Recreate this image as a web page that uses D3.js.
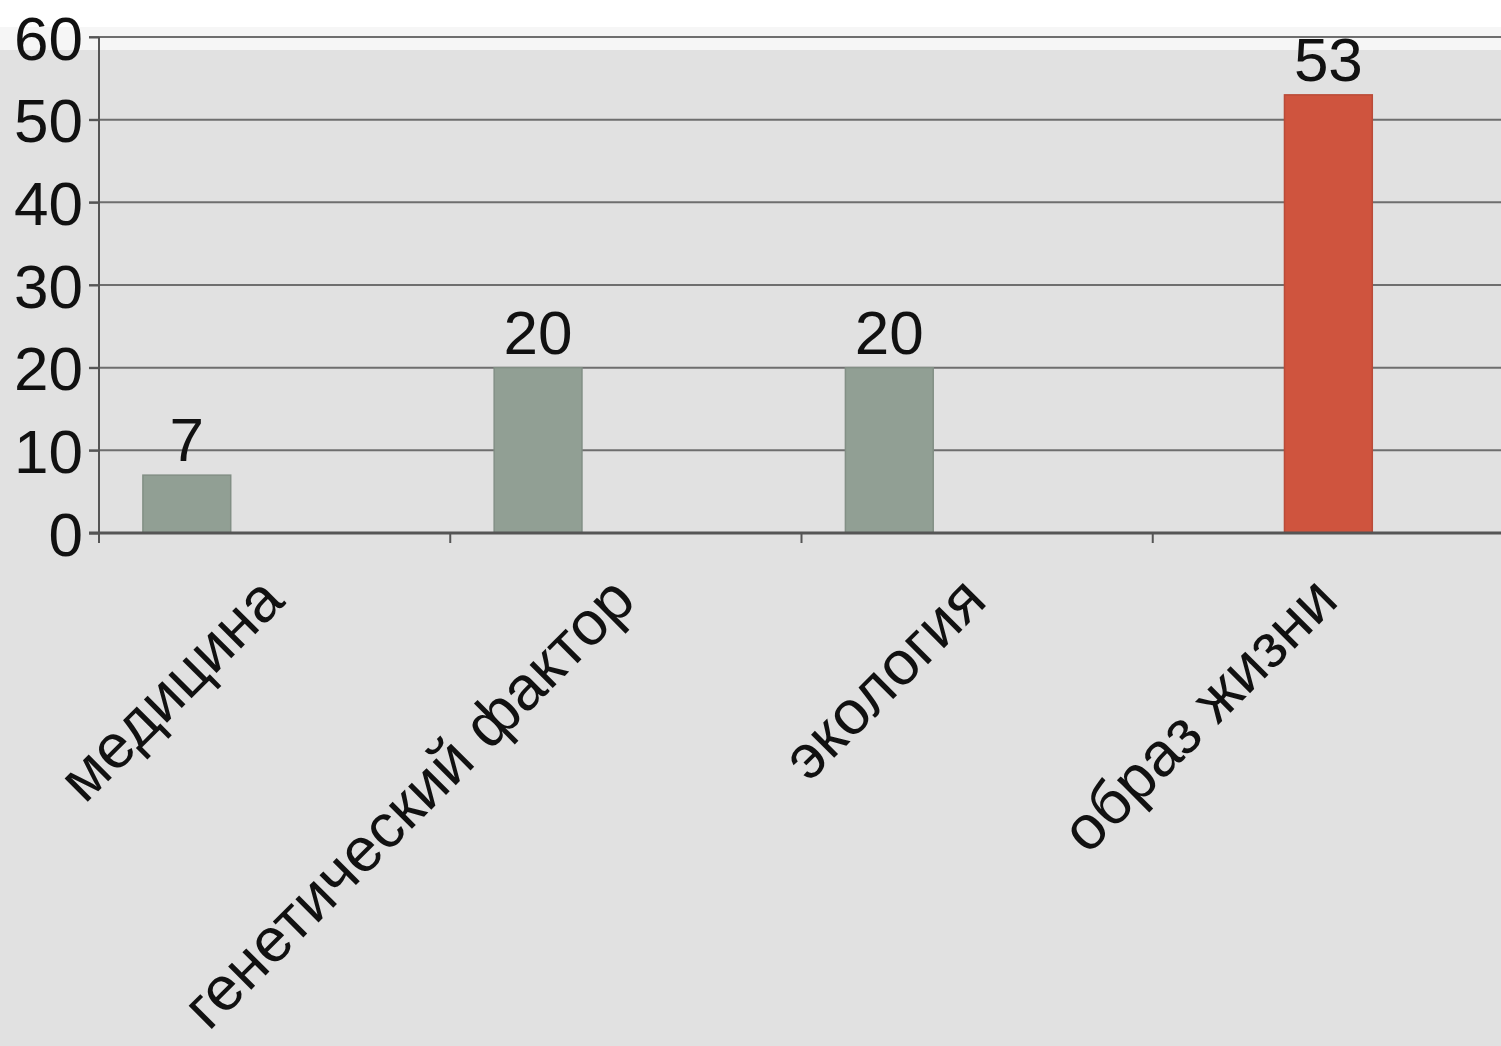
<!DOCTYPE html>
<html>
<head>
<meta charset="utf-8">
<script src="https://cdn.jsdelivr.net/npm/d3@7"></script>
<style>
  html, body { margin: 0; padding: 0; background: #ffffff; overflow: hidden; }
  svg { display: block; font-family: "Liberation Sans", Arial, sans-serif; }
</style>
</head>
<body>
<svg id="chart"></svg>
<script>
// Chart data
const categories = ["медицина", "генетический фактор", "экология", "образ жизни"];
const values = [7, 20, 20, 53];
// which series each bar belongs to (the original chart has 3 series slots)
const seriesKeys = ["s1", "s2", "s3"];
const barSeries = ["s1", "s1", "s1", "s2"];
const seriesColors = { s1: "#919f94", s2: "#cf543e", s3: "#8aa0b8" };
const yTicks = [0, 10, 20, 30, 40, 50, 60];

const width = 1501;
const height = 1046;
const svg = d3.select("#chart").attr("width", width).attr("height", height);

// Background: white strip, light band, gray slide
svg.append("rect").attr("width", width).attr("height", height).attr("fill", "#ffffff");
svg.append("rect").attr("y", 27).attr("width", width).attr("height", 24).attr("fill", "#f6f6f6");
svg.append("rect").attr("y", 50).attr("width", width).attr("height", height - 50).attr("fill", "#e1e1e1");

// Scales
const x = d3.scaleBand().domain(categories).range([99, 1504]).padding(0);
const inner = d3.scaleBand().domain(seriesKeys).range([0, x.bandwidth()])
    .paddingInner(0).paddingOuter(0.5);
const y = d3.scaleLinear().domain([0, 60]).range([533, 37]);

// Gridlines
svg.append("g")
    .selectAll("line")
    .data(yTicks.filter(d => d > 0))
    .join("line")
    .attr("x1", 89).attr("x2", width)
    .attr("y1", d => y(d)).attr("y2", d => y(d))
    .attr("stroke", "#6e6e6e").attr("stroke-width", 2);

// Y axis
const yAxis = svg.append("g")
    .attr("transform", "translate(99,0)")
    .call(d3.axisLeft(y).tickValues(yTicks).tickSize(10).tickPadding(6));
yAxis.select(".domain").remove();
yAxis.selectAll(".tick line").attr("stroke", "#555").attr("stroke-width", 2);
yAxis.selectAll(".tick text")
    .attr("font-size", 62).attr("fill", "#111")
    .attr("font-family", "Liberation Sans, Arial, sans-serif")
    .attr("dy", "0.36em");
svg.append("line")
    .attr("x1", 99).attr("x2", 99).attr("y1", y(60)).attr("y2", y(0) + 10)
    .attr("stroke", "#555").attr("stroke-width", 2);

// Bars
svg.append("g")
    .selectAll("rect")
    .data(categories)
    .join("rect")
    .attr("x", (d, i) => x(d) + inner(barSeries[i]))
    .attr("width", inner.bandwidth())
    .attr("y", (d, i) => y(values[i]))
    .attr("height", (d, i) => y(0) - y(values[i]))
    .attr("fill", (d, i) => seriesColors[barSeries[i]])
    .attr("stroke", (d, i) => d3.color(seriesColors[barSeries[i]]).darker(0.3))
    .attr("stroke-width", 1.5);

// X axis
svg.append("line")
    .attr("x1", 89).attr("x2", width).attr("y1", y(0)).attr("y2", y(0))
    .attr("stroke", "#555").attr("stroke-width", 3);
svg.append("g")
    .selectAll("line")
    .data(categories.slice(1))
    .join("line")
    .attr("x1", d => x(d)).attr("x2", d => x(d))
    .attr("y1", y(0)).attr("y2", y(0) + 10)
    .attr("stroke", "#555").attr("stroke-width", 2);

// Value labels
svg.append("g")
    .selectAll("text")
    .data(categories)
    .join("text")
    .attr("x", (d, i) => x(d) + inner(barSeries[i]) + inner.bandwidth() / 2)
    .attr("y", (d, i) => y(values[i]) - 14)
    .attr("text-anchor", "middle")
    .attr("font-size", 62)
    .attr("fill", "#111")
    .text((d, i) => values[i]);

// Category labels, rotated
svg.append("g")
    .selectAll("text")
    .data(categories)
    .join("text")
    .attr("transform", d => `translate(${x(d) + x.bandwidth() / 2 + 12},${y(0) + 70}) rotate(-45)`)
    .attr("text-anchor", "end")
    .attr("font-size", 62)
    .attr("fill", "#111")
    .text(d => d);
</script>
</body>
</html>
